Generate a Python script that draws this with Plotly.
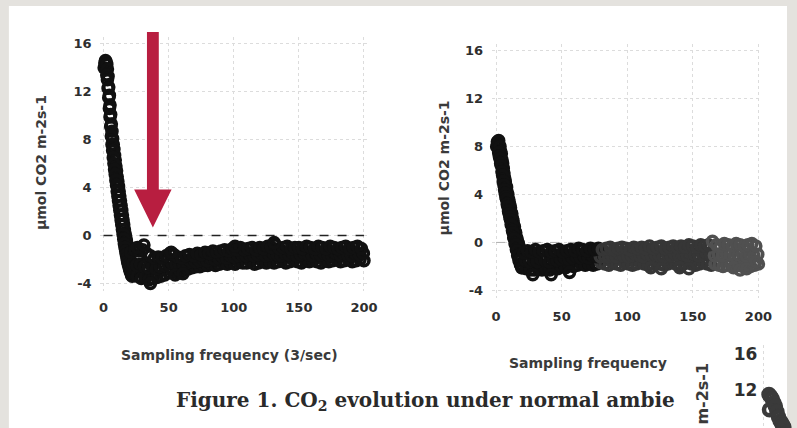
import plotly.graph_objects as go

# ---------------- data ----------------
# Left panel: CO2 flux vs sampling index
left_decline_a_x = [0.5, 1.0, 1.5, 2.0, 2.5, 3.0, 3.5, 4.0, 4.5, 5.0, 5.5, 6.0, 6.5, 7.0, 7.5, 8.0, 8.5, 9.0, 9.5, 10.0,
                    10.5, 11.0, 11.5, 12.0, 12.5, 13.0, 13.5, 14.0, 14.5, 15.0, 15.5, 16.0, 16.5, 17.0, 17.5, 18.0, 18.5, 19.0, 19.5, 20.0]
left_decline_a_y = [14.0, 14.4, 14.6, 14.5, 14.3, 13.9, 13.3, 12.4, 11.7, 10.9, 10.1, 9.3, 8.7, 8.1, 7.6, 7.2, 6.7, 6.3, 5.8, 5.4,
                    4.9, 4.5, 4.1, 3.7, 3.3, 2.9, 2.5, 2.1, 1.7, 1.3, 0.9, 0.5, 0.2, -0.1, -0.4, -0.7, -0.9, -1.1, -1.3, -1.5]
left_decline_b_x = [2.5, 3.0, 3.5, 4.0, 4.5, 5.0, 5.5, 6.0, 6.5, 7.0, 7.5, 8.0, 8.5, 9.0, 9.5, 10.0, 10.5, 11.0, 11.5, 12.0,
                    12.5, 13.0, 13.5, 14.0, 14.5, 15.0, 15.5, 16.0, 16.5, 17.0, 17.5, 18.0, 18.5, 19.0, 19.5, 20.0, 20.5, 21.0, 21.5, 22.0]
left_decline_b_y = [13.4, 13.0, 12.3, 11.5, 10.6, 9.9, 9.1, 8.3, 7.6, 7.1, 6.5, 6.0, 5.5, 5.1, 4.6, 4.2, 3.7, 3.3, 2.9, 2.5,
                    2.1, 1.7, 1.3, 0.9, 0.5, 0.1, -0.3, -0.7, -1.0, -1.3, -1.6, -1.9, -2.2, -2.4, -2.6, -2.8, -3.0, -3.1, -3.3, -3.4]
left_upper_x = [21, 24, 27, 30, 33, 36, 39, 42, 45, 48, 51, 54, 57, 60, 63, 66, 69, 72, 75, 78,
                81, 84, 87, 90, 93, 96, 99, 102, 105, 108, 111, 114, 117, 120, 123, 126, 129, 132, 135, 138,
                141, 144, 147, 150, 153, 156, 159, 162, 165, 168, 171, 174, 177, 180, 183, 186, 189, 192, 195, 198]
left_upper_y = [-1.4, -1.2, -1.3, -1.2, -1.5, -1.7, -1.9, -1.8, -1.9, -1.7, -1.5, -1.6, -1.8, -1.9, -1.7, -1.6, -1.7, -1.5, -1.6, -1.4,
                -1.5, -1.3, -1.4, -1.3, -1.2, -1.3, -1.1, -1.2, -1.0, -1.2, -1.1, -1.0, -1.2, -1.0, -1.1, -0.9, -1.0, -0.8, -1.1, -1.0,
                -0.9, -1.1, -1.0, -1.0, -1.1, -0.9, -1.0, -1.1, -0.9, -1.0, -1.1, -0.9, -1.0, -1.1, -1.0, -0.9, -1.1, -1.0, -0.9, -1.1]
left_middle_x = [22.5, 25.5, 28.5, 31.5, 34.5, 37.5, 40.5, 43.5, 46.5, 49.5, 52.5, 55.5, 58.5, 61.5, 64.5, 67.5, 70.5, 73.5, 76.5, 79.5,
                 82.5, 85.5, 88.5, 91.5, 94.5, 97.5, 100.5, 103.5, 106.5, 109.5, 112.5, 115.5, 118.5, 121.5, 124.5, 127.5, 130.5, 133.5, 136.5, 139.5,
                 142.5, 145.5, 148.5, 151.5, 154.5, 157.5, 160.5, 163.5, 166.5, 169.5, 172.5, 175.5, 178.5, 181.5, 184.5, 187.5, 190.5, 193.5, 196.5, 199.5]
left_middle_y = [-2.3, -2.5, -2.4, -2.6, -2.7, -2.6, -2.8, -2.6, -2.5, -2.4, -2.3, -2.4, -2.5, -2.4, -2.3, -2.2, -2.2, -2.1, -2.0, -2.1,
                 -1.9, -2.0, -1.9, -1.8, -1.9, -1.7, -1.8, -1.7, -1.6, -1.7, -1.6, -1.7, -1.6, -1.5, -1.7, -1.6, -1.5, -1.6, -1.7, -1.5,
                 -1.6, -1.5, -1.7, -1.6, -1.5, -1.6, -1.7, -1.5, -1.6, -1.5, -1.6, -1.7, -1.5, -1.6, -1.5, -1.6, -1.7, -1.5, -1.6, -1.5]
left_lower_x = [23, 26, 29, 32, 35, 38, 41, 44, 47, 50, 53, 56, 59, 62, 65, 68, 71, 74, 77, 80,
                83, 86, 89, 92, 95, 98, 101, 104, 107, 110, 113, 116, 119, 122, 125, 128, 131, 134, 137, 140,
                143, 146, 149, 152, 155, 158, 161, 164, 167, 170, 173, 176, 179, 182, 185, 188, 191, 194, 197, 200]
left_lower_y = [-3.2, -3.4, -3.6, -3.5, -3.7, -3.6, -3.5, -3.4, -3.3, -3.1, -3.0, -3.1, -3.0, -2.9, -2.8, -2.7, -2.6, -2.6, -2.5, -2.5,
                -2.4, -2.5, -2.4, -2.3, -2.4, -2.3, -2.4, -2.2, -2.3, -2.3, -2.2, -2.4, -2.3, -2.2, -2.3, -2.2, -2.3, -2.2, -2.1, -2.3,
                -2.2, -2.1, -2.2, -2.3, -2.1, -2.2, -2.1, -2.2, -2.3, -2.1, -2.2, -2.1, -2.0, -2.2, -2.1, -2.0, -2.2, -2.1, -2.0, -2.1]
left_outlier_x = [26, 31, 36, 52, 55, 61, 101, 131]
left_outlier_y = [-1.0, -0.8, -4.0, -1.4, -3.3, -3.2, -0.9, -0.6]

# Right panel
right_decline_a_x = [0.5, 1.0, 1.5, 2.0, 2.5, 3.0, 3.5, 4.0, 4.5, 5.0, 5.5, 6.0, 6.5, 7.0, 7.5, 8.0, 8.5, 9.0,
                     9.5, 10.0, 10.5, 11.0, 11.5, 12.0, 12.5, 13.0, 13.5, 14.0, 14.5, 15.0, 15.5, 16.0, 16.5, 17.0, 17.5, 18.0]
right_decline_a_y = [8.0, 8.4, 8.2, 8.5, 8.1, 8.0, 7.6, 7.4, 6.9, 6.6, 6.2, 5.8, 5.4, 5.1, 4.8, 4.6, 4.2, 4.0,
                     3.6, 3.4, 3.1, 2.9, 2.5, 2.4, 2.0, 1.8, 1.4, 1.3, 0.9, 0.8, 0.4, 0.3, 0.0, -0.1, -0.3, -0.5]
right_decline_b_x = [2.0, 2.5, 3.0, 3.5, 4.0, 4.5, 5.0, 5.5, 6.0, 6.5, 7.0, 7.5, 8.0, 8.5, 9.0, 9.5, 10.0, 10.5, 11.0,
                     11.5, 12.0, 12.5, 13.0, 13.5, 14.0, 14.5, 15.0, 15.5, 16.0, 16.5, 17.0, 17.5, 18.0, 18.5, 19.0, 19.5, 20.0]
right_decline_b_y = [7.5, 7.2, 7.0, 6.6, 6.4, 5.9, 5.6, 5.1, 4.8, 4.4, 4.1, 3.8, 3.6, 3.2, 3.0, 2.6, 2.4, 2.1, 1.9,
                     1.5, 1.4, 1.0, 0.8, 0.4, 0.3, -0.1, -0.2, -0.6, -0.7, -1.1, -1.1, -1.5, -1.5, -1.8, -1.9, -2.1, -2.1]
right_upper_x = left_upper_x
right_upper_y = [-0.9, -0.7, -0.8, -0.6, -0.8, -0.7, -0.6, -0.8, -0.7, -0.6, -0.8, -0.7, -0.6, -0.7, -0.5, -0.6, -0.7, -0.5, -0.6, -0.5,
                 -0.6, -0.5, -0.4, -0.6, -0.5, -0.4, -0.5, -0.6, -0.4, -0.5, -0.4, -0.5, -0.3, -0.5, -0.4, -0.3, -0.5, -0.4, -0.3, -0.4,
                 -0.3, -0.4, -0.2, -0.3, -0.4, -0.2, -0.3, -0.2, 0.1, -0.2, -0.3, -0.1, -0.2, -0.3, -0.1, -0.2, -0.3, -0.2, -0.1, -0.3]
right_middle_x = left_middle_x
right_middle_y = [-1.5, -1.6, -1.5, -1.6, -1.4, -1.5, -1.6, -1.4, -1.5, -1.4, -1.3, -1.4, -1.3, -1.2, -1.3, -1.2, -1.3, -1.1, -1.2, -1.2,
                  -1.1, -1.2, -1.1, -1.2, -1.0, -1.1, -1.2, -1.1, -1.0, -1.1, -1.2, -1.0, -1.1, -1.0, -1.1, -1.2, -1.0, -1.1, -1.0, -1.1,
                  -1.0, -1.1, -0.9, -1.0, -1.1, -1.0, -0.9, -1.0, -1.1, -1.0, -1.1, -0.9, -1.0, -1.1, -1.0, -0.9, -1.1, -1.0, -1.1, -1.0]
right_lower_x = left_lower_x
right_lower_y = [-2.2, -2.3, -2.3, -2.2, -2.3, -2.2, -2.3, -2.1, -2.2, -2.0, -2.1, -1.9, -2.0, -1.9, -1.8, -1.9, -1.8, -1.9, -1.8, -1.7,
                 -1.8, -1.9, -1.7, -1.8, -1.9, -1.7, -1.8, -1.9, -1.8, -1.7, -1.8, -1.9, -1.8, -1.7, -1.8, -1.9, -1.8, -1.7, -1.8, -1.9,
                 -1.8, -1.7, -1.8, -1.9, -1.8, -1.7, -1.8, -1.9, -1.8, -1.9, -2.0, -1.9, -1.8, -2.0, -1.9, -2.0, -1.9, -2.0, -1.9, -1.8]
right_outlier_x = [28, 42, 56, 118, 126, 140, 147, 181, 186, 191, 198]
right_outlier_y = [-2.7, -2.7, -2.5, -2.1, -2.2, -2.1, -2.2, -2.1, -2.3, -2.2, -1.6]

# Third (cut-off) panel
third_x = [8.0, 9.5, 11.0, 12.5, 8.5, 14.0, 15.5, 17.0, 18.5, 20.0, 21.0, 22.0]
third_y = [11.5, 11.3, 11.0, 10.6, 9.8, 10.2, 9.6, 9.0, 8.6, 8.3, 8.1, 7.9]

x_ticks = [0, 50, 100, 150, 200]
y_ticks = [-4, 0, 4, 8, 12, 16]
y_tick_labels = ["-4", "0", "4", "8", "12", "16"]
third_y_ticks = [8, 12, 16]

y_title = "µmol CO2 m-2s-1"
x_title = "Sampling frequency (3/sec)"
x_title_cut = "Sampling frequency"
caption = "Figure 1. CO<sub>2</sub> evolution under normal ambie"

# ---------------- figure ----------------
W, H = 797, 428
def fx(x):
    return x / W
def fy(y):
    return 1 - y / H

BG = "#e4e2de"
RED = "#b81e40"
TXT = "#2e2e2e"
TICKFONT = dict(family="DejaVu Sans", size=13, color=TXT, weight="bold")
TITLEFONT = dict(family="DejaVu Sans", size=14, color="#3a3a3a", weight="bold")
MS, MLW = 10, 3.6

fig = go.Figure()

left_x = left_decline_a_x + left_decline_b_x + left_lower_x + left_middle_x + left_upper_x + left_outlier_x
left_y = left_decline_a_y + left_decline_b_y + left_lower_y + left_middle_y + left_upper_y + left_outlier_y
fig.add_trace(go.Scatter(x=left_x, y=left_y, mode="markers",
                         marker=dict(symbol="circle-open", size=MS, color="#111111",
                                     line=dict(width=MLW, color="#111111")),
                         xaxis="x", yaxis="y", cliponaxis=False, showlegend=False, hoverinfo="skip"))

right_x = right_decline_a_x + right_decline_b_x + right_lower_x + right_middle_x + right_upper_x + right_outlier_x
right_y = right_decline_a_y + right_decline_b_y + right_lower_y + right_middle_y + right_upper_y + right_outlier_y

def shade(x):
    if x < 79:
        return "#111111"
    if x < 165:
        return "#363636"
    return "#505050"

right_cols = [shade(v) for v in right_x]
fig.add_trace(go.Scatter(x=right_x, y=right_y, mode="markers",
                         marker=dict(symbol="circle-open", size=MS, color=right_cols,
                                     line=dict(width=MLW, color=right_cols)),
                         xaxis="x2", yaxis="y2", cliponaxis=False, showlegend=False, hoverinfo="skip"))

fig.add_trace(go.Scatter(x=third_x, y=third_y, mode="markers",
                         marker=dict(symbol="circle-open", size=11, color="#3a3a3a",
                                     line=dict(width=4.5, color="#3a3a3a")),
                         xaxis="x3", yaxis="y3", cliponaxis=False, showlegend=False, hoverinfo="skip"))

grid = dict(showgrid=True, gridcolor="#dcdcdc", griddash="dot", gridwidth=1,
            zeroline=False, showline=False, ticks="")

fig.update_layout(
    width=W, height=H, autosize=False,
    margin=dict(l=0, r=0, t=0, b=0),
    paper_bgcolor=BG, plot_bgcolor="rgba(0,0,0,0)",
    xaxis=dict(domain=[fx(100), fx(372)], range=[-3, 203], tickvals=x_ticks,
               tickfont=TICKFONT, ticklabelstandoff=7, anchor="y", **grid),
    yaxis=dict(domain=[fy(290.2), fy(35.8)], range=[-4.6, 16.6], tickvals=y_ticks,
               ticktext=y_tick_labels, tickfont=TICKFONT, ticklabelstandoff=7, anchor="x", **grid),
    xaxis2=dict(domain=[fx(498), fx(772)], range=[-3, 203], tickvals=x_ticks,
                tickfont=TICKFONT, ticklabelstandoff=9, anchor="y2", **grid),
    yaxis2=dict(domain=[fy(297.2), fy(42.8)], range=[-4.6, 16.6], tickvals=y_ticks,
                ticktext=y_tick_labels, tickfont=TICKFONT, ticklabelstandoff=8, anchor="x2", **grid),
    xaxis3=dict(domain=[fx(768), 1], range=[-2, 25], tickvals=[3], showticklabels=False,
                anchor="y3", **grid),
    yaxis3=dict(domain=[0, fy(345)], range=[7.78, 17], tickvals=third_y_ticks,
                tickfont=dict(family="DejaVu Sans", size=17, color=TXT, weight="bold"),
                ticklabelstandoff=0, anchor="x3", showgrid=False, zeroline=False, ticks=""),
)

shapes = [
    # white page
    dict(type="rect", xref="paper", yref="paper", x0=fx(8), x1=1, y0=0, y1=fy(5),
         fillcolor="white", line=dict(width=0), layer="below"),
    # dashed zero lines
    dict(type="line", xref="x", yref="y", x0=0, x1=200, y0=0, y1=0,
         line=dict(color="#222222", width=1.5, dash="dash"), layer="between"),
    dict(type="line", xref="x2", yref="y2", x0=0, x1=200, y0=0, y1=0,
         line=dict(color="#b0b0b0", width=1, dash="dash"), layer="between"),
]
# red arrow (annotation overlay)
arrow_pts = [(148, 31), (160, 31), (160, 189), (173, 189), (154, 227), (135, 189), (148, 189)]
path = "M " + " L ".join(f"{fx(a):.5f},{fy(b):.5f}" for a, b in arrow_pts) + " Z"
shapes.append(dict(type="path", xref="paper", yref="paper", path=path,
                   fillcolor=RED, line=dict(width=0), layer="above"))
fig.update_layout(shapes=shapes)

ann = [
    dict(text=x_title, x=fx(232), y=fy(355), xanchor="center", yanchor="middle", font=TITLEFONT),
    dict(text=x_title_cut, x=fx(677), y=fy(363), xanchor="right", yanchor="middle", font=TITLEFONT),
    dict(text=y_title, x=fx(40), y=fy(162), textangle=-90, xanchor="center", yanchor="middle", font=TITLEFONT),
    dict(text=y_title, x=fx(449), y=fy(167), textangle=-90, xanchor="center", yanchor="middle", font=TITLEFONT),
    dict(text=y_title, x=fx(712), y=fy(440), textangle=-90, xanchor="center", yanchor="middle",
         font=dict(family="DejaVu Sans", size=16, color="#3a3a3a", weight="bold")),
    dict(text=caption, x=fx(175), y=fy(401), xanchor="left", yanchor="middle",
         font=dict(family="DejaVu Serif", size=20, color="#2a2a2a", weight="bold")),
]
for a in ann:
    a.update(xref="paper", yref="paper", showarrow=False)
fig.update_layout(annotations=ann)

fig.write_html("out.html")
